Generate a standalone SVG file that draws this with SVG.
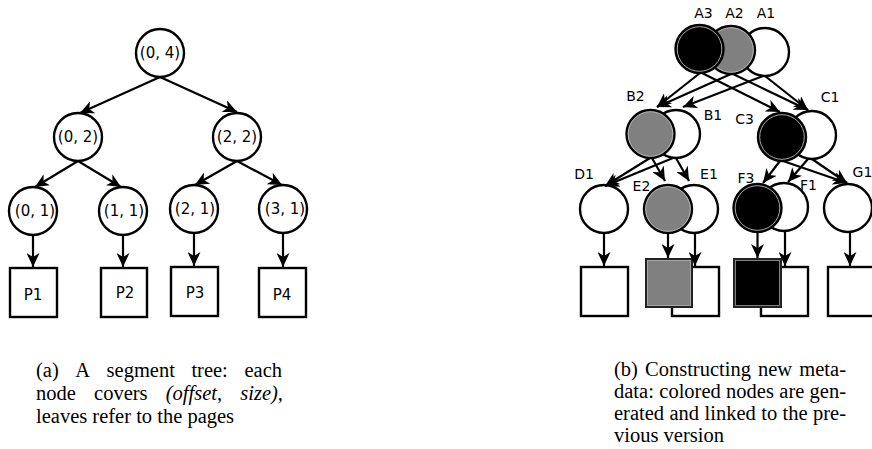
<svg xmlns="http://www.w3.org/2000/svg" width="872" height="449" viewBox="0 0 872 449">
<defs>
<marker id="ah" markerUnits="userSpaceOnUse" markerWidth="15" markerHeight="13" refX="14" refY="6.5" orient="auto">
<path d="M0,0 L14,6.5 L0,13 L4,6.5 z" fill="#000"/>
</marker>
<style>
.n{fill:#fff;stroke:#000;stroke-width:2.4}
.g{fill:#808080;stroke:#000;stroke-width:2.4}
.b{fill:#000;stroke:#000;stroke-width:2.4}
.ring{fill:none;stroke:#b8b8b8;stroke-width:0.9}
.bx{fill:#fff;stroke:#000;stroke-width:2.4}
.gbx{fill:#808080;stroke:#222;stroke-width:2}
.bbx{fill:#000;stroke:#222;stroke-width:2}
.e{stroke:#000;stroke-width:2.2;fill:none;marker-end:url(#ah)}
.t{font-family:"DejaVu Sans",sans-serif;font-size:15px;fill:#000;text-anchor:middle}
.l{font-family:"DejaVu Sans",sans-serif;font-size:14px;fill:#000;text-anchor:middle}
.c{font-family:"Liberation Serif","Times New Roman",serif;font-size:20.5px;fill:#000}
.i{font-style:italic}
</style>
</defs>
<rect width="872" height="449" fill="#fff"/>

<g id="connectors-a">
<line class="e" x1="160" y1="77" x2="80" y2="113"/>
<line class="e" x1="160" y1="77" x2="237" y2="112"/>
<line class="e" x1="78" y1="161" x2="35" y2="187"/>
<line class="e" x1="78" y1="161" x2="121" y2="187"/>
<line class="e" x1="237" y1="161" x2="195" y2="185"/>
<line class="e" x1="237" y1="161" x2="282" y2="185"/>
<line class="e" x1="33" y1="235" x2="33" y2="267"/>
<line class="e" x1="123" y1="235" x2="123" y2="267"/>
<line class="e" x1="194" y1="233" x2="194" y2="266"/>
<line class="e" x1="283" y1="233" x2="283" y2="267"/>
</g>

<g id="n04"><circle class="n" cx="160" cy="53" r="24"/><text class="t" x="160" y="58">(0, 4)</text></g>
<g id="n02"><circle class="n" cx="78" cy="137" r="24"/><text class="t" x="78" y="142">(0, 2)</text></g>
<g id="n22"><circle class="n" cx="237" cy="137" r="24"/><text class="t" x="237" y="142">(2, 2)</text></g>
<g id="n01"><circle class="n" cx="33" cy="211" r="24"/><text class="t" x="35" y="216">(0, 1)</text></g>
<g id="n11"><circle class="n" cx="123" cy="211" r="24"/><text class="t" x="124" y="216">(1, 1)</text></g>
<g id="n21"><circle class="n" cx="194" cy="209" r="24"/><text class="t" x="195" y="214">(2, 1)</text></g>
<g id="n31"><circle class="n" cx="283" cy="209" r="24"/><text class="t" x="285" y="214">(3, 1)</text></g>
<g id="p1"><rect class="bx" x="10" y="268" width="47" height="49"/><text class="t" x="33" y="300">P1</text></g>
<g id="p2"><rect class="bx" x="101" y="268" width="46" height="49"/><text class="t" x="125" y="298">P2</text></g>
<g id="p3"><rect class="bx" x="171" y="267" width="47" height="49"/><text class="t" x="195" y="298">P3</text></g>
<g id="p4"><rect class="bx" x="259" y="268" width="47" height="49"/><text class="t" x="282" y="300">P4</text></g>

<g id="A1"><circle class="n" cx="765" cy="52" r="24"/><text class="l" x="766" y="18">A1</text></g>
<g id="A2"><circle class="g" cx="731" cy="50" r="24"/><circle class="ring" cx="731" cy="50" r="22.3"/><text class="l" x="734.5" y="18">A2</text></g>
<g id="A3"><circle class="b" cx="699.5" cy="49" r="24"/><circle class="ring" cx="699.5" cy="49" r="22.3"/><text class="l" x="703.5" y="18">A3</text></g>

<g id="B1"><circle class="n" cx="676" cy="134" r="24"/><text class="l" x="713" y="120">B1</text></g>
<g id="B2"><circle class="g" cx="650.5" cy="134" r="24"/><circle class="ring" cx="650.5" cy="134" r="22.3"/><text class="l" x="635.5" y="101">B2</text></g>
<g id="C1"><circle class="n" cx="812" cy="135" r="24"/><text class="l" x="830" y="102">C1</text></g>
<g id="C3"><circle class="b" cx="782" cy="137" r="24"/><circle class="ring" cx="782" cy="137" r="22.3"/><text class="l" x="744.5" y="124">C3</text></g>

<g id="D1"><circle class="n" cx="604" cy="209" r="24"/><text class="l" x="584" y="179">D1</text>
<rect class="bx" x="581" y="267" width="47" height="49"/></g>
<g id="E1"><circle class="n" cx="694" cy="209" r="24"/><text class="l" x="709" y="179">E1</text>
<rect class="bx" x="672" y="267" width="47" height="49"/></g>
<g id="E2"><circle class="g" cx="668" cy="209" r="24"/><circle class="ring" cx="668" cy="209" r="22.3"/><text class="l" x="641.5" y="191">E2</text>
<rect class="gbx" x="646" y="259" width="46" height="48"/><rect x="647.5" y="260.5" width="43" height="45" fill="none" stroke="#b0b0b0" stroke-width="0.8"/></g>
<g id="F1"><circle class="n" cx="784" cy="207" r="24"/><text class="l" x="808.5" y="190">F1</text>
<rect class="bx" x="761" y="267" width="47" height="49"/></g>
<g id="F3"><circle class="b" cx="757.5" cy="208" r="24"/><circle class="ring" cx="757.5" cy="208" r="22.3"/><text class="l" x="746" y="183">F3</text>
<rect class="bbx" x="734" y="259" width="47" height="48"/><rect x="735.5" y="260.5" width="44" height="45" fill="none" stroke="#a0a0a0" stroke-width="0.8"/></g>
<g id="G1"><circle class="n" cx="848" cy="208" r="24"/><text class="l" x="862.5" y="177">G1</text>
<rect class="bx" x="828" y="267" width="50" height="49"/></g>

<g id="connectors-b">
<line class="e" x1="700" y1="73" x2="657" y2="107"/>
<line class="e" x1="731" y1="74" x2="657" y2="107"/>
<line class="e" x1="763" y1="76" x2="683" y2="107"/>
<line class="e" x1="702" y1="73" x2="780" y2="112"/>
<line class="e" x1="733" y1="74" x2="808" y2="110"/>
<line class="e" x1="765" y1="76" x2="808" y2="110"/>
<line class="e" x1="650" y1="158" x2="605" y2="186"/>
<line class="e" x1="673" y1="158" x2="605" y2="186"/>
<line class="e" x1="652" y1="158" x2="665" y2="181"/>
<line class="e" x1="676" y1="158" x2="689" y2="181"/>
<line class="e" x1="780" y1="161" x2="763" y2="183"/>
<line class="e" x1="783" y1="161" x2="847" y2="183"/>
<line class="e" x1="808" y1="159" x2="788" y2="182"/>
<line class="e" x1="812" y1="159" x2="847" y2="183"/>
<line class="e" x1="604" y1="233" x2="604" y2="266"/>
<line class="e" x1="668" y1="233" x2="668" y2="258"/>
<line class="e" x1="695" y1="233" x2="695" y2="266"/>
<line class="e" x1="757.5" y1="232" x2="757.5" y2="258"/>
<line class="e" x1="785" y1="231" x2="785" y2="266"/>
<line class="e" x1="850" y1="232" x2="850" y2="266"/>
</g>

<g id="caption-a" class="c">
<text x="36" y="377">(a)</text><text x="75.3" y="377">A</text><text x="106.6" y="377">segment</text><text x="191.4" y="377">tree:</text><text x="282" y="377" text-anchor="end">each</text>
<text x="36" y="400">node</text><text x="94.1" y="400">covers</text><text class="i" x="165.8" y="400">(offset,</text><text class="i" x="283" y="400" text-anchor="end">size),</text>
<text x="36" y="423">leaves refer to the pages</text>
</g>
<g id="caption-b" class="c">
<text x="614" y="376">(b)</text><text x="645" y="376">Constructing</text><text x="758" y="376">new</text><text x="846" y="376" text-anchor="end">meta-</text>
<text x="614" y="398">data:</text><text x="659.3" y="398">colored</text><text x="726.1" y="398">nodes</text><text x="779.3" y="398">are</text><text x="846" y="398" text-anchor="end">gen-</text>
<text x="614" y="420">erated</text><text x="669.5" y="420">and</text><text x="704.5" y="420">linked</text><text x="761.2" y="420">to</text><text x="782.5" y="420">the</text><text x="846" y="420" text-anchor="end">pre-</text>
<text x="614" y="442">vious version</text>
</g>
</svg>
